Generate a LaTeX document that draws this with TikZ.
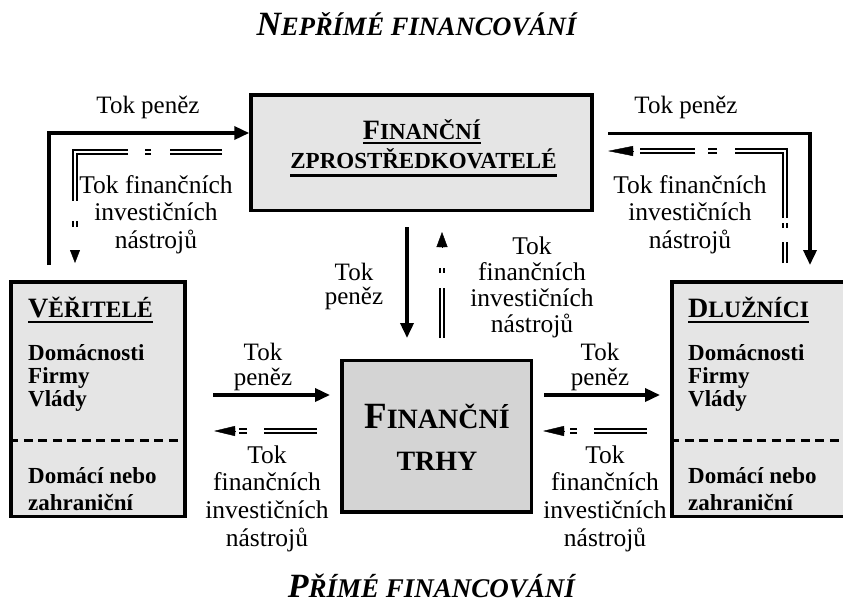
\documentclass[tikz,border=0pt]{standalone}
\usepackage{fontspec}
\setmainfont{Liberation Serif}
\usepackage{graphicx}
\usetikzlibrary{arrows.meta}
\definecolor{boxlight}{gray}{0.9}
\definecolor{boxdark}{gray}{0.83}
\newcommand\CapTxt[4]{{\fontsize{#1}{#1}\selectfont #3}{\fontsize{#2}{#2}\selectfont #4}}
\newcommand\ULine[3]{\leavevmode\setbox0=\hbox{#3}\rlap{\rule[\dimexpr-#1-#2/2\relax]{\wd0}{#2}}\box0}
\tikzset{
  box/.style={draw, line width=3.5pt, inner sep=0pt},
  sepline/.style={line width=3pt, dash pattern=on 9pt off 5.5pt},
  money/.style={line width=3.5pt, -{Triangle[length=15pt,width=13pt]}},
  instr/.style={draw, double=white, double distance=2pt, line width=2pt},
  instrtip/.style 2 args={-{Triangle[length=#1,width=#2]}, line width=0.4pt},
  lbl/.style={inner sep=0pt, anchor=base, align=center},
  boxtxt/.style={inner sep=0pt, anchor=base west, align=left},
}
\begin{document}
\begin{tikzpicture}[x=1pt,y=-1pt]
\useasboundingbox (0,0) rectangle (843,603);

% titles
\node[lbl, font=\bfseries\itshape] (ttop) at (416.5,35) {\CapTxt{34}{26.5}{N}{EPŘÍMÉ FINANCOVÁNÍ}};
\node[lbl, font=\bfseries\itshape] (tbot) at (431.5,597) {\CapTxt{34}{27}{P}{ŘÍMÉ FINANCOVÁNÍ}};

% boxes
\node[box, fill=boxlight, minimum width=341pt, minimum height=115.5pt] (interm) at (421.5,152.75) {};
\node[box, fill=boxlight, minimum width=174pt, minimum height=234.7pt] (ver) at (98,399.35) {};
\node[box, fill=boxlight, minimum width=188pt, minimum height=234.7pt] (dlu) at (766,399.35) {};
\node[box, fill=boxdark, minimum width=189.3pt, minimum height=151.5pt] (trhy) at (436.65,436.25) {};

\coordinate (sepy) at (0,440);
\draw[sepline] (ver.west |- sepy) -- (ver.east |- sepy);
\draw[sepline] (dlu.west |- sepy) -- (dlu.east |- sepy);

% box texts
\node[lbl, font=\bfseries] (interm1) at (422,139) {\ULine{3.7pt}{2.3pt}{\CapTxt{28}{23}{F}{INANČNÍ}}};
\node[lbl, font=\bfseries] (interm2) at (423.5,168) {\ULine{7.5pt}{2.3pt}{\CapTxt{23}{23}{}{ZPROSTŘEDKOVATELÉ}}};
\node[lbl, font=\bfseries] (trhy1) at (437,428) {\CapTxt{37}{28}{F}{INANČNÍ}};
\node[lbl, font=\bfseries] (trhy2) at (437,470) {\CapTxt{28}{28}{}{TRHY}};

\node[boxtxt, font=\bfseries] (verh) at (28,317) {\ULine{5pt}{2.5pt}{\CapTxt{28}{23.5}{V}{ĚŘITELÉ}}};
\node[boxtxt, font=\bfseries\fontsize{23}{23.3}\selectfont] (verl) at (28,406.6) {Domácnosti\\Firmy\\Vlády};
\node[boxtxt, font=\bfseries\fontsize{23}{27}\selectfont] (verd) at (28,510) {Domácí nebo\\zahraniční};

\node[boxtxt, font=\bfseries] (dluh) at (688,317) {\ULine{5pt}{2.5pt}{\CapTxt{28}{23.5}{D}{LUŽNÍCI}}};
\node[boxtxt, font=\bfseries\fontsize{23}{23.3}\selectfont] (dlul) at (688,406.6) {Domácnosti\\Firmy\\Vlády};
\node[boxtxt, font=\bfseries\fontsize{23}{27}\selectfont] (dlud) at (688,510) {Domácí nebo\\zahraniční};

% labels (anchor base = baseline of last line)
\node[lbl, font=\fontsize{25}{27}\selectfont] (l1) at (148,113) {Tok peněz};
\node[lbl, font=\fontsize{25}{27}\selectfont] (l2) at (686,113) {Tok peněz};
\node[lbl, font=\fontsize{25.5}{27.5}\selectfont] (l3) at (156,248) {Tok finančních\\investičních\\nástrojů};
\node[lbl, font=\fontsize{25.5}{27.5}\selectfont] (l4) at (690,248) {Tok finančních\\investičních\\nástrojů};
\node[lbl, font=\fontsize{25}{24}\selectfont] (l5) at (354,304) {Tok\\peněz};
\node[lbl, font=\fontsize{25.5}{26}\selectfont] (l6) at (532,332) {Tok\\finančních\\investičních\\nástrojů};
\node[lbl, font=\fontsize{25}{25}\selectfont] (l7) at (263,385) {Tok\\peněz};
\node[lbl, font=\fontsize{25}{25}\selectfont] (l8) at (600,385) {Tok\\peněz};
\node[lbl, font=\fontsize{25.5}{27.8}\selectfont] (l9) at (267,546.4) {Tok\\finančních\\investičních\\nástrojů};
\node[lbl, font=\fontsize{25.5}{27.8}\selectfont] (l10) at (605,546.4) {Tok\\finančních\\investičních\\nástrojů};

% money flows
\coordinate (m1s) at (49,265);
\draw[money] (m1s) |- ([yshift=19.75pt]interm.west);
\coordinate (m2s) at (608,133.5);
\coordinate (m2e) at (810,265);
\draw[money] (m2s) -| (m2e);
\coordinate (m3s) at (407,227);
\coordinate (m3e) at (407,338);
\draw[money] (m3s) -- (m3e);
\coordinate (m4s) at (213,395);
\coordinate (m4e) at (330,395);
\draw[money] (m4s) -- (m4e);
\coordinate (m5s) at (544,395);
\coordinate (m5e) at (660,395);
\draw[money] (m5s) -- (m5e);

% instrument flows
\coordinate (i1s) at (222,152);
\coordinate (i1b) at (75,250);
\coordinate (i1t) at (75,263);
\draw[instr, dash pattern=on 52pt off 19pt on 6pt off 17pt on 102pt off 20pt on 6pt off 23pt] (i1s) -| (i1b);
\draw[instrtip={13pt}{10pt}] (i1b) -- (i1t);

\coordinate (i2s) at (785,263);
\coordinate (i2b) at (633,151);
\coordinate (i2t) at (608,151);
\draw[instr, dash pattern=on 21pt off 14pt on 5pt off 5pt on 117pt off 18pt on 9pt off 13pt on 55pt off 7pt] (i2s) |- (i2b);
\draw[instrtip={25pt}{10pt}] (i2b) -- (i2t);

\coordinate (i3s) at (442,338);
\coordinate (i3b) at (442,247);
\coordinate (i3t) at (442,232);
\draw[instr, dash pattern=on 50pt off 15pt on 5pt off 21pt] (i3s) -- (i3b);
\draw[instrtip={15pt}{11pt}] (i3b) -- (i3t);

\coordinate (i4s) at (317,431);
\coordinate (i4b) at (235,431);
\coordinate (i4t) at (214,431);
\draw[instr, dash pattern=on 53pt off 17pt on 8pt off 4pt] (i4s) -- (i4b);
\draw[instrtip={21pt}{10pt}] (i4b) -- (i4t);

\coordinate (i5s) at (647,431);
\coordinate (i5b) at (564,431);
\coordinate (i5t) at (543,431);
\draw[instr, dash pattern=on 53pt off 17pt on 7pt off 6pt] (i5s) -- (i5b);
\draw[instrtip={21pt}{10pt}] (i5b) -- (i5t);
\end{tikzpicture}
\end{document}
